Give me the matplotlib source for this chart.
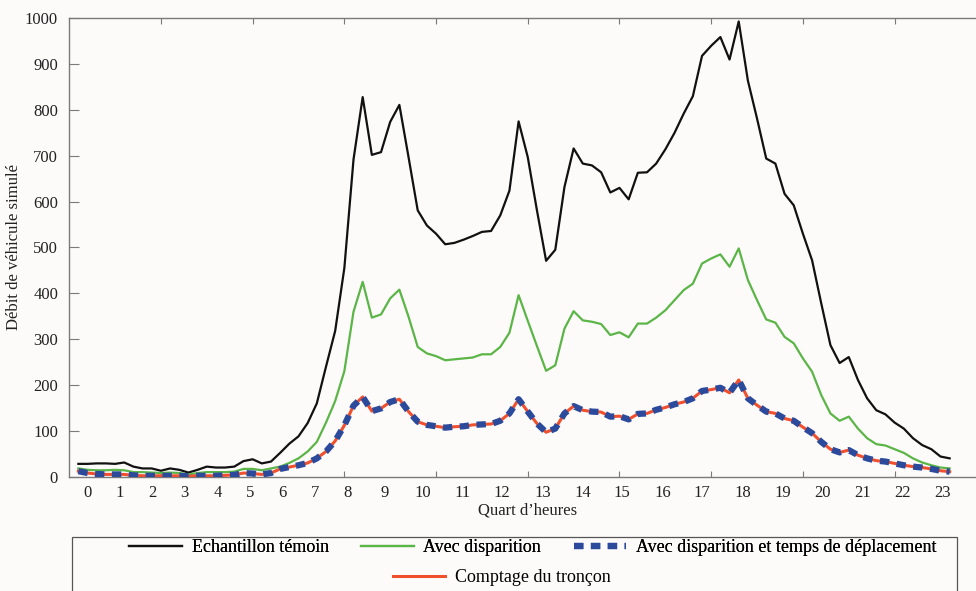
import matplotlib
matplotlib.use('Agg')
import matplotlib.pyplot as plt
from matplotlib.lines import Line2D
from matplotlib.patches import Rectangle

# one value per quarter hour, 96 values (index 1..96 on the x axis)
temoin = [28, 28, 29, 29, 28, 31, 22, 18, 18, 13, 18, 15, 9, 15, 22, 20,
          20, 22, 34, 38, 29, 33, 52, 72, 88, 117, 160, 240, 318, 455, 692, 828,
          702, 708, 774, 811, 697, 581, 548, 530, 507, 510, 517, 525, 534, 536, 570, 624,
          775, 697, 581, 471, 495, 632, 716, 683, 679, 664, 620, 630, 605, 663, 664, 683,
          714, 750, 792, 830, 918, 940, 959, 910, 993, 864, 781, 694, 683, 617, 592, 530,
          472, 378, 287, 248, 261, 211, 171, 145, 136, 118, 105, 84, 69, 60, 44, 40]

disparition = [18, 15, 14, 14, 15, 14, 10, 10, 9, 8, 9, 8, 5, 8, 10, 10,
               10, 11, 17, 17, 14, 18, 22, 30, 40, 55, 76, 118, 165, 230, 360, 425,
               347, 354, 389, 408, 349, 283, 269, 263, 254, 256, 258, 260, 267, 267, 283, 314,
               396, 340, 285, 231, 243, 323, 361, 341, 338, 333, 309, 315, 304, 334, 334, 347,
               363, 385, 407, 421, 465, 476, 485, 458, 498, 429, 385, 343, 336, 305, 291, 258,
               229, 178, 138, 122, 131, 105, 84, 71, 68, 60, 52, 40, 31, 25, 20, 18]

disp_temps = [12, 8, 6, 5, 5, 5, 3, 2, 2, 2, 2, 2, 1, 2, 2, 2,
              3, 4, 8, 7, 5, 8, 17, 21, 25, 30, 40, 55, 78, 112, 155, 174,
              143, 149, 163, 169, 142, 120, 113, 110, 107, 109, 110, 113, 114, 115, 122, 138,
              169, 142, 116, 97, 105, 138, 154, 145, 142, 141, 131, 132, 125, 137, 138, 146,
              151, 158, 163, 171, 187, 190, 194, 183, 211, 171, 156, 142, 138, 127, 122, 108,
              95, 76, 60, 53, 58, 47, 40, 35, 33, 29, 25, 22, 20, 17, 13, 11]

comptage = [12, 8, 6, 5, 5, 5, 3, 2, 2, 2, 2, 2, 1, 2, 2, 2,
            3, 4, 8, 7, 5, 8, 17, 21, 25, 30, 40, 55, 78, 112, 155, 174,
            143, 149, 163, 169, 142, 120, 113, 110, 107, 109, 110, 113, 114, 115, 122, 138,
            169, 142, 116, 97, 105, 138, 154, 145, 142, 141, 131, 132, 125, 137, 138, 146,
            151, 158, 163, 171, 187, 190, 194, 183, 211, 171, 156, 142, 138, 127, 122, 108,
            95, 76, 60, 53, 58, 47, 40, 35, 33, 29, 25, 22, 20, 17, 13, 11]

# hour labels typed under the axis (positions in index units)
hour_labels = [str(h) for h in range(24)]
hour_pos = [1.97, 5.46, 9.03, 12.6, 16.2, 19.7, 23.3, 26.8, 30.4, 34.4, 38.5, 42.9,
            47.2, 51.6, 56.0, 60.3, 64.7, 69.0, 73.4, 77.8, 82.1, 86.5, 90.9, 95.25]

labels = ['Echantillon témoin', 'Avec disparition',
          'Avec disparition et temps de déplacement', 'Comptage du tronçon']

C_BLACK = '#111111'
C_GREEN = '#5bb547'
C_BLUE = '#2c4a9c'
C_RED = '#f0502e'
BG = '#fdfbfa'


def make_plot():
    plt.rcParams['font.family'] = ['Liberation Serif', 'DejaVu Serif']
    plt.rcParams['font.size'] = 12

    fig = plt.figure(figsize=(9.76, 5.91), dpi=100, facecolor=BG)
    ax = fig.add_axes([0.0709, 0.1934, 0.9397, 0.7757], facecolor=BG)

    x = list(range(1, len(temoin) + 1))
    ax.plot(x, temoin, c=C_BLACK, lw=1.6, zorder=2)
    ax.plot(x, disparition, c=C_GREEN, lw=1.6, zorder=2)
    ax.plot(x, comptage, c=C_RED, lw=2.2, zorder=3)
    ax.plot(x, disp_temps, c=C_BLUE, lw=4.5, ls=(0, (1.5, 1.2)), zorder=4)

    ax.set_xlim(0, 100)
    ax.set_ylim(0, 1000)

    for sp in ax.spines.values():
        sp.set_color('#7a7a7a')
        sp.set_linewidth(1.0)

    # major ticks every 10 samples, no labels; hour labels as minor ticks
    ax.set_xticks(range(10, 100, 10))
    ax.set_xticklabels([])
    ax.set_xticks(hour_pos, minor=True)
    ax.set_xticklabels(hour_labels, minor=True)
    ax.tick_params(axis='x', which='major', direction='in', length=4, width=0.8,
                   color='#7a7a7a', top=True, bottom=True)
    ax.tick_params(axis='x', which='minor', length=0, pad=6, labelcolor='#222222')

    ax.set_yticks(range(0, 1001, 100))
    ax.tick_params(axis='y', direction='in', length=7, width=0.8, color='#7a7a7a',
                   left=True, right=True, pad=8, labelcolor='#222222')

    ax.set_xlabel('Quart d’heures', labelpad=1, color='#222222')
    ax.set_ylabel('Débit de véhicule simulé', color='#222222')
    ax.yaxis.set_label_coords(-0.0515, 0.5)

    # legend box below the axes: three entries on the first row, one centered below
    handles = [Line2D([], [], c=C_BLACK, lw=1.6),
               Line2D([], [], c=C_GREEN, lw=1.6),
               Line2D([], [], c=C_BLUE, lw=4.5, ls=(0, (1.5, 1.2))),
               Line2D([], [], c=C_RED, lw=2.2)]
    fig.patches.append(Rectangle((0.0738, -0.05), 0.9067, 0.1414, transform=fig.transFigure,
                                 fill=False, edgecolor='#555555', lw=0.9))
    leg1 = fig.legend(handles[:3], labels[:3], ncol=3, frameon=False, fontsize=13,
                      loc='center', bbox_to_anchor=(0.546, 0.0728),
                      handlelength=2.9, handletextpad=0.55, columnspacing=1.8)
    fig.add_artist(leg1)
    fig.legend(handles[3:], labels[3:], frameon=False, fontsize=13,
               loc='center', bbox_to_anchor=(0.514, 0.022),
               handlelength=2.9, handletextpad=0.55)

    fig.savefig('out.png', dpi=100, facecolor=BG)


if __name__ == '__main__':
    make_plot()
